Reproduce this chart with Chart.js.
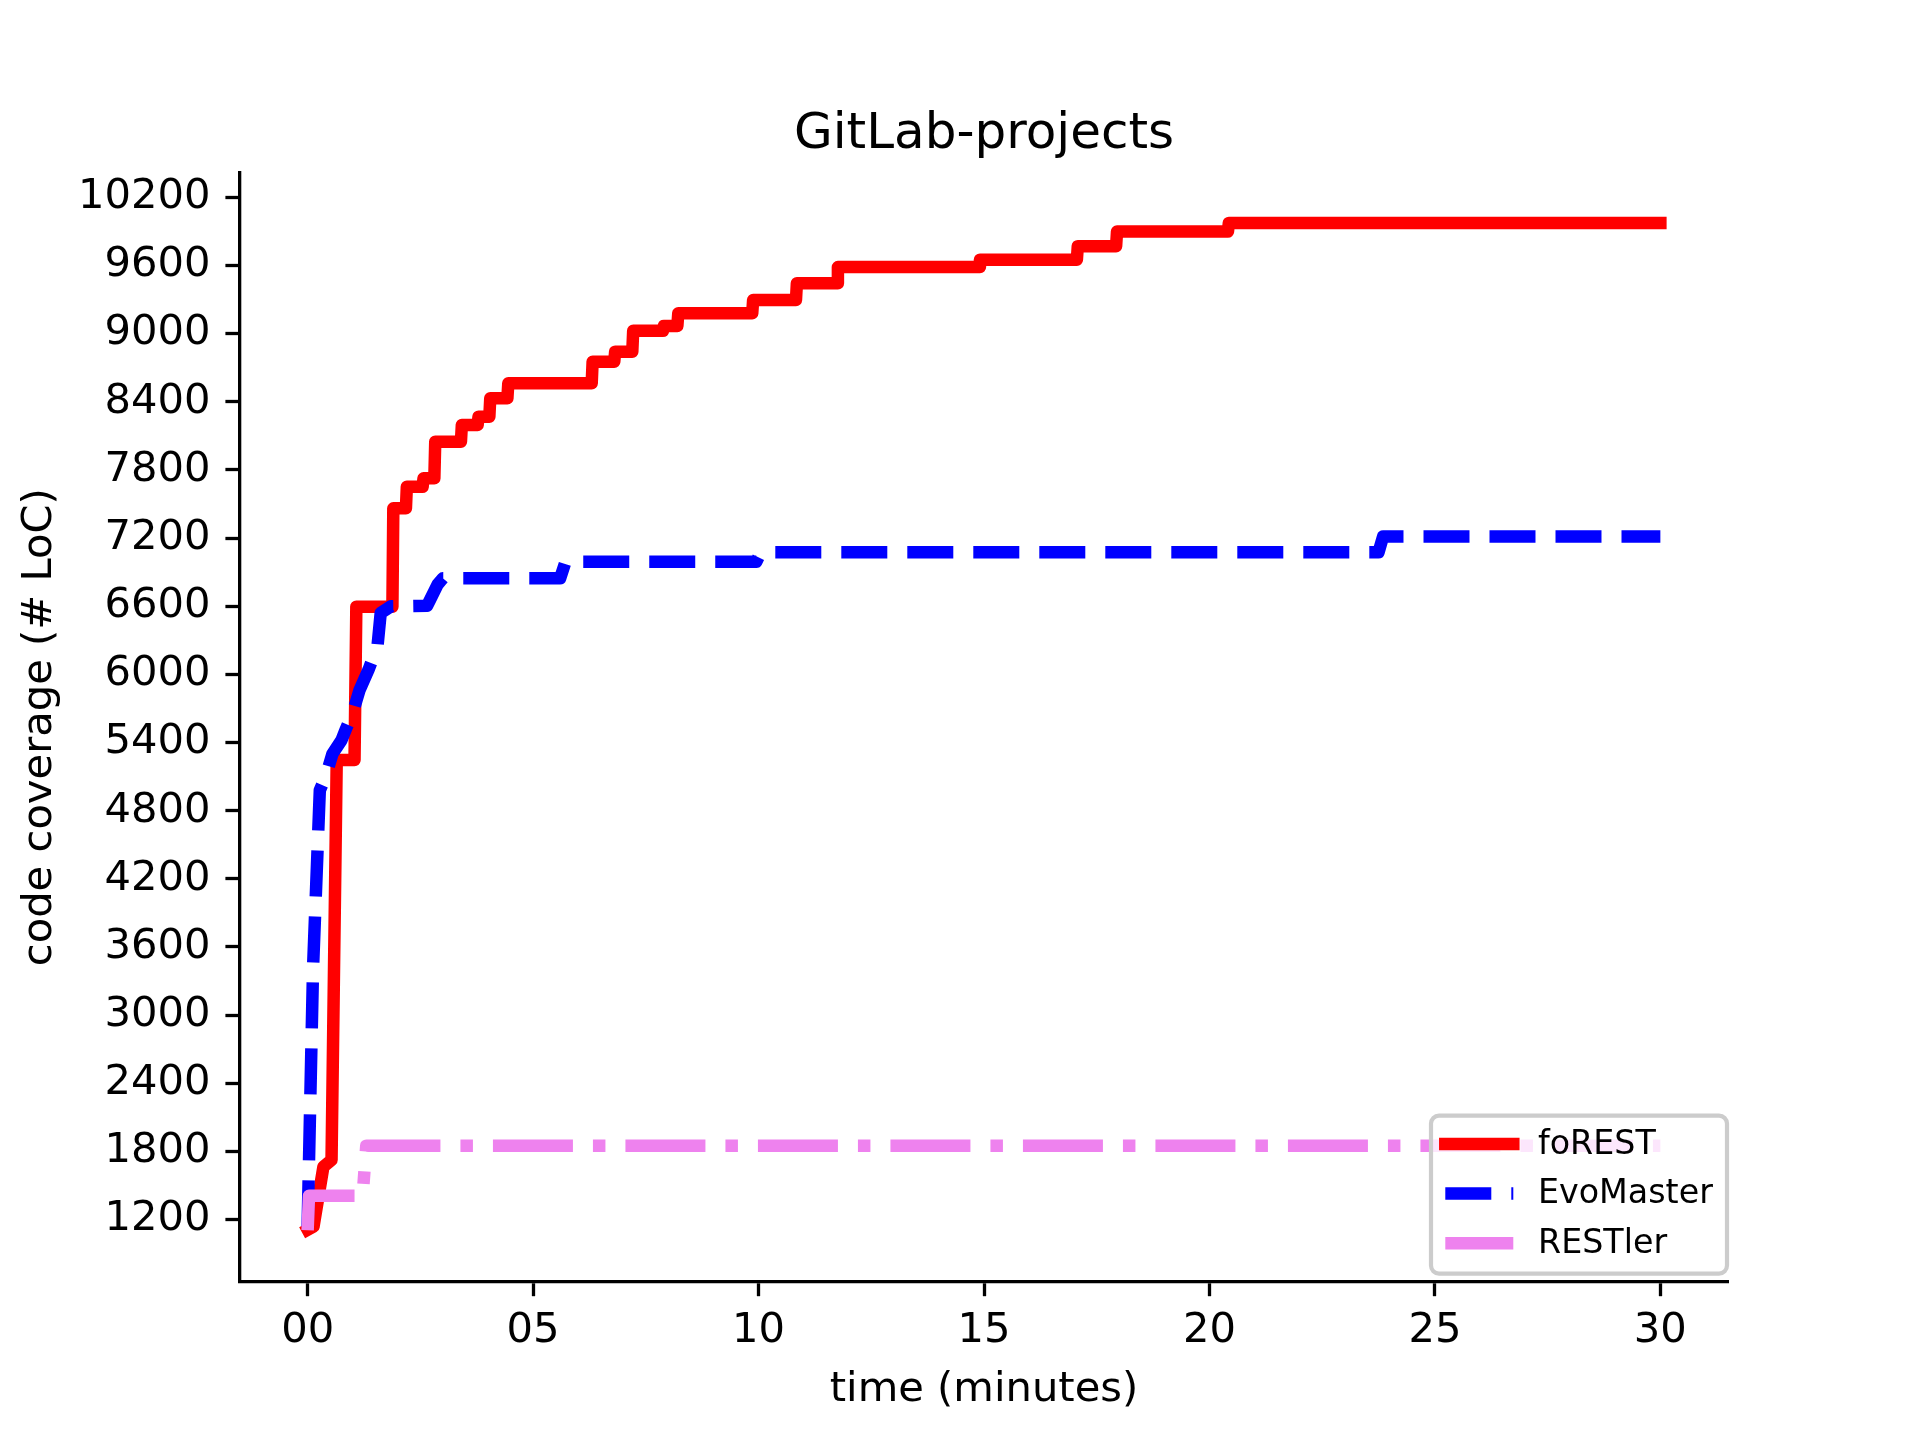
<!DOCTYPE html>
<html lang="en">
<head>
    <meta charset="UTF-8"/>
    <title>GitLab-projects</title>
    <script src="https://cdn.jsdelivr.net/npm/chart.js"></script>
    <style>
        html, body {
            margin: 0;
            padding: 0;
            background: #fff;
        }
        canvas#covChart {
            display: block;
        }
    </style>
</head>
<body>
<canvas id="covChart" width="1920" height="1440"></canvas>

<script>
    // time in minutes, coverage in # LoC
    const forestTime = [0, 0.13, 0.35, 0.53, 0.645, 1.04, 1.08, 1.88, 1.90, 2.18, 2.20, 2.55, 2.57, 2.81, 2.83,
        3.40, 3.42, 3.77, 3.79, 4.03, 4.05, 4.43, 4.45, 6.30, 6.32, 6.80, 6.82, 7.20, 7.22, 7.88, 7.90,
        8.20, 8.22, 9.86, 9.88, 10.83, 10.85, 11.74, 11.76, 14.89, 14.91, 17.06, 17.08, 17.93, 17.95,
        20.41, 20.43, 30];
    const forestCov = [1110, 1138, 1665, 1725, 5246, 5246, 6596, 6596, 7462, 7462, 7652, 7652, 7726, 7726, 8049,
        8049, 8196, 8196, 8269, 8269, 8431, 8431, 8563, 8563, 8753, 8753, 8841, 8841, 9025, 9025, 9068,
        9068, 9179, 9179, 9296, 9296, 9443, 9443, 9586, 9586, 9651, 9651, 9770, 9770, 9899,
        9899, 9974, 9974];

    const evoTime = [0, 0.12, 0.27, 0.40, 0.55, 0.75, 0.85, 1.00, 1.15, 1.35, 1.55, 1.62, 1.85, 2.65, 2.72,
        2.88, 3.00, 5.60, 5.72, 9.95, 10.05, 23.75, 23.85, 30];
    const evoCov = [1140, 3415, 4980, 5100, 5300, 5420, 5520, 5660, 5860, 6040, 6250, 6540, 6600, 6605, 6660,
        6790, 6846, 6846, 6992, 6992, 7075, 7075, 7213, 7213];

    const restlerTime = [0, 0.03, 1.22, 1.30, 30];
    const restlerCov = [1107, 1410, 1410, 1851, 1851];

    const xTicks = [0, 5, 10, 15, 20, 25, 30];
    const yTicks = [1200, 1800, 2400, 3000, 3600, 4200, 4800, 5400, 6000, 6600, 7200, 7800, 8400, 9000, 9600, 10200];

    const toPoints = (ts, vs) => ts.map((t, i) => ({x: t, y: vs[i]}));

    Chart.defaults.font.family = "'DejaVu Sans', sans-serif";
    Chart.defaults.color = '#000';

    const LW = 12.5;

    // matplotlib style legend in the lower right of the plot area
    const legendBox = {
        id: 'legendBox',
        afterDraw(chart) {
            const {ctx, chartArea} = chart;
            const w = 296, h = 158;
            const x = chartArea.right - w - 1;
            const y = chartArea.bottom - h - 8;
            ctx.save();
            ctx.beginPath();
            ctx.roundRect(x, y, w, h, 8);
            ctx.fillStyle = 'rgba(255,255,255,0.8)';
            ctx.fill();
            ctx.lineWidth = 4.2;
            ctx.strokeStyle = '#cccccc';
            ctx.stroke();
            chart.data.datasets.forEach((ds, i) => {
                const rowY = y + 28.3 + i * 49.7;
                ctx.beginPath();
                ctx.setLineDash(ds.borderDash || []);
                ctx.lineCap = ds.borderCapStyle || 'butt';
                ctx.lineWidth = LW;
                ctx.strokeStyle = ds.borderColor;
                ctx.moveTo(x + 14.3, rowY);
                ctx.lineTo(x + 82.3, rowY);
                ctx.stroke();
                ctx.setLineDash([]);
                ctx.fillStyle = '#000';
                ctx.font = "33.3px 'DejaVu Sans'";
                ctx.textBaseline = 'middle';
                ctx.textAlign = 'left';
                ctx.fillText(ds.label, x + 107, rowY + 1);
            });
            ctx.restore();
        }
    };

    new Chart(document.getElementById('covChart').getContext('2d'), {
        type: 'line',
        data: {
            datasets: [{
                label: 'foREST',
                data: toPoints(forestTime, forestCov),
                borderColor: '#ff0000',
                borderWidth: LW,
                borderCapStyle: 'square',
                borderJoinStyle: 'round',
                pointRadius: 0,
                tension: 0,
                order: 3
            }, {
                label: 'EvoMaster',
                data: toPoints(evoTime, evoCov),
                borderColor: '#0000ff',
                borderWidth: LW,
                borderDash: [46, 20],
                borderCapStyle: 'butt',
                borderJoinStyle: 'round',
                pointRadius: 0,
                tension: 0,
                order: 2
            }, {
                label: 'RESTler',
                data: toPoints(restlerTime, restlerCov),
                borderColor: '#ee82ee',
                borderWidth: LW,
                borderDash: [80, 20, 12.5, 20],
                borderCapStyle: 'butt',
                borderJoinStyle: 'round',
                pointRadius: 0,
                tension: 0,
                order: 1
            }]
        },
        options: {
            responsive: false,
            devicePixelRatio: 1,
            animation: false,
            layout: {padding: {left: 0, right: 192, top: 0, bottom: 0}},
            scales: {
                x: {
                    type: 'linear',
                    min: -1.5,
                    max: 31.5,
                    afterBuildTicks: axis => { axis.ticks = xTicks.map(v => ({value: v})); },
                    afterFit: scale => { scale.height = 158.4; },
                    border: {display: true, color: '#000', width: 3.3},
                    grid: {drawOnChartArea: false, drawTicks: true, tickLength: 14.6, tickWidth: 3.3, tickColor: '#000'},
                    ticks: {
                        font: {size: 41.67, lineHeight: 1.2},
                        padding: 10,
                        maxRotation: 0,
                        callback: v => String(v).padStart(2, '0')
                    },
                    title: {
                        display: true,
                        text: 'time (minutes)',
                        font: {size: 41.67, lineHeight: 1.2},
                        padding: {top: 0, bottom: 24.5}
                    }
                },
                y: {
                    type: 'linear',
                    min: 654,
                    max: 10416,
                    afterBuildTicks: axis => { axis.ticks = yTicks.map(v => ({value: v})); },
                    afterFit: scale => { scale.width = 240; },
                    border: {display: true, color: '#000', width: 3.3},
                    grid: {drawOnChartArea: false, drawTicks: true, tickLength: 14.6, tickWidth: 3.3, tickColor: '#000'},
                    ticks: {
                        font: {size: 41.67, lineHeight: 1.2},
                        padding: 15,
                        callback: v => String(v)
                    },
                    title: {
                        display: true,
                        text: 'code coverage (# LoC)',
                        font: {size: 41.67, lineHeight: 1.2},
                        padding: {top: 15, bottom: 0}
                    }
                }
            },
            plugins: {
                legend: {display: false},
                tooltip: {enabled: false},
                title: {
                    display: true,
                    fullSize: false, // centre over the plot area, like the axes title
                    text: 'GitLab-projects',
                    color: '#000',
                    font: {size: 50, weight: 'normal', lineHeight: 1.2},
                    padding: {top: 105, bottom: 7.8}
                }
            }
        },
        plugins: [legendBox]
    });
</script>
</body>
</html>
